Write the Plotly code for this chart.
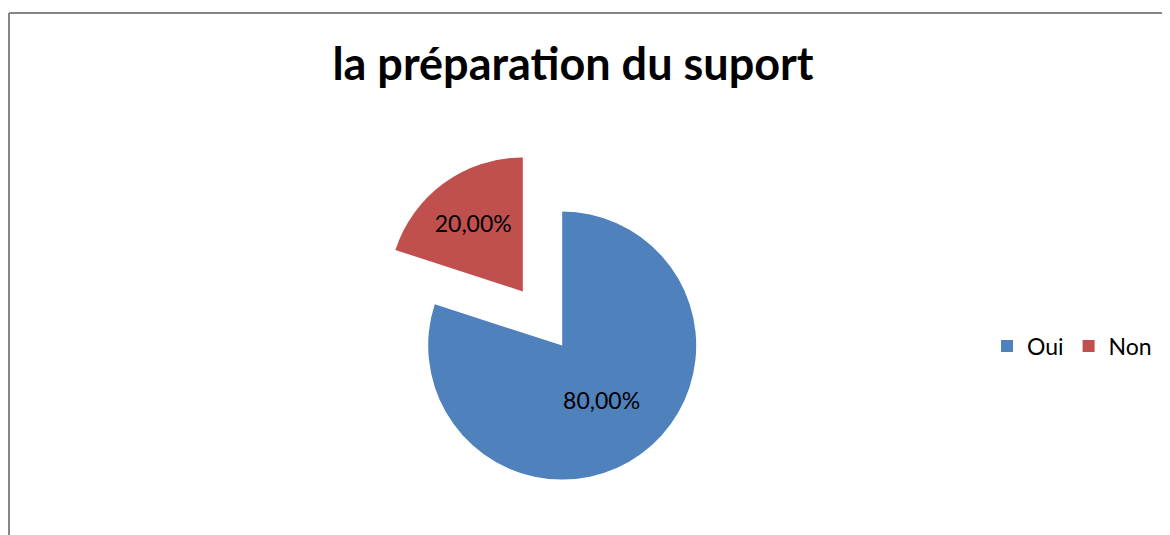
import plotly.graph_objects as go

labels = ["Oui", "Non"]
values = [80, 20]
colors = ["#4F81BD", "#C0504D"]
title_text = "la préparation du suport"

# the page body adds an 8px margin, so the figure is drawn a bit smaller
OFF = 8
W, H = 1170 - OFF, 535 - OFF
FONT = "Lato, Open Sans, sans-serif"


def px(x):
    return (x - OFF) / W


def py(y):
    return 1 - (y - OFF) / H


fig = go.Figure()

fig.add_trace(
    go.Pie(
        labels=labels,
        values=values,
        sort=False,
        direction="clockwise",
        rotation=0,
        pull=[0.25, 0.25],
        marker=dict(colors=colors, line=dict(width=0)),
        texttemplate="%{percent:.2%}",
        textposition="inside",
        insidetextorientation="horizontal",
        textfont=dict(family=FONT, size=23, color="black"),
        domain=dict(x=[px(375), px(710)], y=[py(486), py(151)]),
        hoverinfo="label+percent",
    )
)

# chart frame (only top and left edges visible in the crop)
fig.add_shape(type="line", xref="paper", yref="paper",
              x0=px(9), x1=1.02, y0=py(13), y1=py(13),
              line=dict(color="#868686", width=2))
fig.add_shape(type="line", xref="paper", yref="paper",
              x0=px(9), x1=px(9), y0=-0.02, y1=py(13),
              line=dict(color="#868686", width=2))

fig.update_layout(
    width=W,
    height=H,
    separators=", ",
    margin=dict(l=0, r=0, t=0, b=0),
    paper_bgcolor="white",
    plot_bgcolor="white",
    title=dict(
        text="<b>" + title_text + "</b>",
        x=px(573),
        xanchor="center",
        y=py(64),
        yanchor="middle",
        font=dict(family=FONT, size=45, color="black"),
    ),
    legend=dict(
        orientation="h",
        x=px(987),
        xanchor="left",
        y=py(346),
        yanchor="middle",
        font=dict(family=FONT, size=23, color="black"),
        itemsizing="constant",
    ),
)

fig.write_html("out.html")
